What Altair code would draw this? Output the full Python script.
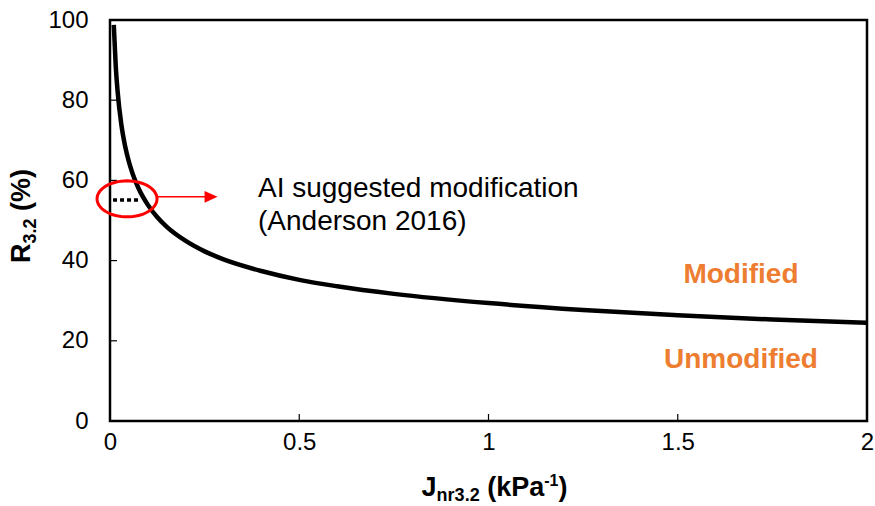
import math
import altair as alt
import pandas as pd

# R3.2 vs Jnr3.2 boundary curve
jnr = [0.01, 0.015, 0.02, 0.03, 0.04, 0.05, 0.06, 0.075, 0.1, 0.125, 0.15,
       0.2, 0.25, 0.3, 0.4, 0.5, 0.6, 0.75, 1.0, 1.25, 1.5, 1.75, 2.0]
r32 = [98.8, 88.8, 82.3, 73.9, 68.5, 64.6, 61.6, 58.1, 53.9, 50.8, 48.4,
       44.9, 42.3, 40.3, 37.4, 35.2, 33.6, 31.7, 29.4, 27.7, 26.4, 25.3, 24.5]

# dotted level of the suggested modification
dot_j = [0.008, 0.08]
dot_r = [55.1, 55.1]

# circled region and the arrow pointing to the note
ring_j = [0.045]
ring_r = [55.4]
arrow_j = [0.124, 0.258]
arrow_r = [55.9, 55.9]
head_j = [0.267]
head_r = [55.9]

note_lines = ["AI suggested modification", "(Anderson 2016)"]
note_j = [0.391, 0.391]
note_r = [55.9, 47.6]

region_labels = ["Modified", "Unmodified"]
region_j = [1.667, 1.667]
region_r = [34.4, 13.2]

x_ticks = [0, 0.5, 1, 1.5, 2]
y_ticks = [0, 20, 40, 60, 80, 100]
x_inner_ticks = [0.5, 1, 1.5]
y_inner_ticks = [20, 40, 60, 80]

W, H = 757, 401
FONT = "Liberation Sans"
ORANGE = "#ED7D31"

xs = alt.Scale(domain=[0, 2], nice=False, zero=False)
ys = alt.Scale(domain=[0, 100], nice=False)

x_axis = alt.Axis(values=x_ticks, format=".1~f", labelFlush=False, labelOverlap=False,
                  labelPadding=9, title=None)
y_axis = alt.Axis(values=y_ticks, format="d", labelOverlap=False, labelPadding=22,
                  title=None)

curve = alt.Chart(pd.DataFrame({"j": jnr, "r": r32})).mark_line(
    color="black", strokeWidth=4.5, interpolate="monotone", strokeCap="butt"
).encode(
    x=alt.X("j:Q", scale=xs, axis=x_axis),
    y=alt.Y("r:Q", scale=ys, axis=y_axis),
)

dotted = alt.Chart(pd.DataFrame({"j": dot_j, "r": dot_r})).mark_line(
    color="black", strokeWidth=3.5, strokeDash=[4, 3]
).encode(x=alt.X("j:Q", scale=xs), y=alt.Y("r:Q", scale=ys))

# ellipse outline as a closed custom symbol (x radius 1, y radius 0.6)
n_seg = 64
ell_pts = [(math.cos(2 * math.pi * k / n_seg), 0.6 * math.sin(2 * math.pi * k / n_seg))
           for k in range(n_seg)]
ellipse_path = "M" + " L".join(f"{px:.4f},{py:.4f}" for px, py in ell_pts) + " Z"

ring = alt.Chart(pd.DataFrame({"j": ring_j, "r": ring_r})).mark_point(
    shape=ellipse_path, filled=False, stroke="#FF0000", strokeWidth=3, opacity=1
).encode(x=alt.X("j:Q", scale=xs), y=alt.Y("r:Q", scale=ys), size=alt.value(3600))

arrow = alt.Chart(pd.DataFrame({"j": arrow_j, "r": arrow_r})).mark_line(
    color="#FF0000", strokeWidth=1.5
).encode(x=alt.X("j:Q", scale=xs), y=alt.Y("r:Q", scale=ys))

head = alt.Chart(pd.DataFrame({"j": head_j, "r": head_r})).mark_point(
    shape="M1,0 L-1,-0.9 L-1,0.9 Z", filled=True, fill="#FF0000", stroke=None, opacity=1
).encode(x=alt.X("j:Q", scale=xs), y=alt.Y("r:Q", scale=ys), size=alt.value(169))

note = alt.Chart(pd.DataFrame({"j": note_j, "r": note_r, "t": note_lines})).mark_text(
    align="left", baseline="alphabetic", font=FONT, fontSize=28, color="black"
).encode(x=alt.X("j:Q", scale=xs), y=alt.Y("r:Q", scale=ys), text="t:N")

regions = alt.Chart(pd.DataFrame({"j": region_j, "r": region_r, "t": region_labels})).mark_text(
    align="center", baseline="alphabetic", font=FONT, fontSize=28, fontWeight="bold",
    color=ORANGE
).encode(x=alt.X("j:Q", scale=xs), y=alt.Y("r:Q", scale=ys), text="t:N")

# inward tick marks
xt = alt.Chart(pd.DataFrame({"v": x_inner_ticks})).mark_rule(color="black", strokeWidth=1.2).encode(
    x=alt.X("v:Q", scale=xs), y=alt.value(H), y2=alt.value(H - 7)
)
yt = alt.Chart(pd.DataFrame({"v": y_inner_ticks})).mark_rule(color="black", strokeWidth=1.2).encode(
    y=alt.Y("v:Q", scale=ys), x=alt.value(0), x2=alt.value(7)
)

# axis titles with sub/superscripts built from text pieces;
# a piece's gap before it is given separately (leading spaces collapse in SVG)
BOLD_W = {"J": .556, "n": .611, "r": .389, "3": .556, ".": .278, "2": .556, " ": .278,
          "(": .333, "k": .556, "P": .667, "a": .556, "-": .333, "1": .556, ")": .333,
          "R": .722, "%": .889}


def text_width(s, size):
    return sum(BOLD_W.get(c, .556) for c in s) * size


BIG, SUB, SUP = 27, 18, 16
GAP = 0.278 * BIG
# (text, font size, baseline shift, gap before)
x_title_parts = [("J", BIG, 0, 0), ("nr3.2", SUB, 5, 0), ("(kPa", BIG, 0, GAP),
                 ("-1", SUP, -10, 0), (")", BIG, 0, 0)]
y_title_parts = [("R", BIG, 0, 0), ("3.2", SUB, 6, 0), ("(%)", BIG, 0, GAP)]


def title_layers(parts, anchor_x, anchor_y, angle):
    total = sum(text_width(s, fs) + gap for s, fs, _, gap in parts)
    layers = []
    offset = -total / 2
    for s, fs, shift, gap in parts:
        offset += gap
        layers.append(
            alt.Chart(pd.DataFrame({"t": [s]})).mark_text(
                align="left", baseline="alphabetic", font=FONT, fontSize=fs,
                fontWeight="bold", color="black", angle=angle, dx=offset, dy=shift
            ).encode(x=alt.value(anchor_x), y=alt.value(anchor_y), text="t:N")
        )
        offset += text_width(s, fs)
    return layers


x_title = title_layers(x_title_parts, W / 2 + 6, H + 75, 0)
y_title = title_layers(y_title_parts, -80, 196, 270)

chart = alt.layer(
    xt, yt, dotted, curve, ring, arrow, head, note, regions, *x_title, *y_title
).properties(
    width=W, height=H,
    autosize=alt.AutoSizeParams(type="none"),
    padding={"left": 110, "top": 20, "right": 8, "bottom": 85},
    background="white",
).configure_view(
    stroke="black", strokeWidth=2.5
).configure_axis(
    domain=False, ticks=False, tickSize=0, grid=False,
    labelFont=FONT, labelFontSize=24, labelColor="black"
)

chart.save("out.html", embed_options={"renderer": "svg", "actions": False})
